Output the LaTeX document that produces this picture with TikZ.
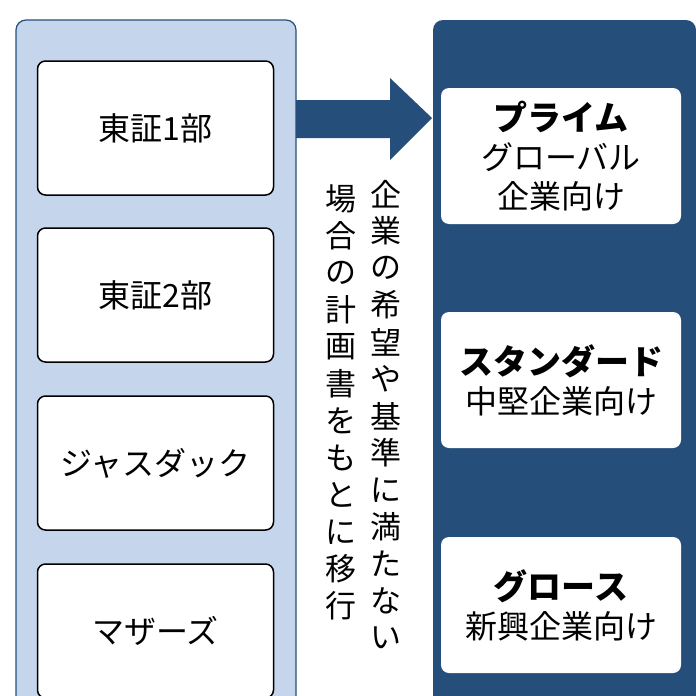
\documentclass[tikz,border=0pt]{standalone}
\usepackage{fontspec}
\setmainfont{Noto Sans CJK JP}
\usetikzlibrary{positioning}
\definecolor{paleblue}{HTML}{C5D5EC}
\definecolor{navy}{HTML}{254E7A}
\tikzset{
  oldbox/.style={draw=black,line width=1.5pt,fill=white,rounded corners=8pt,
    minimum width=236pt,minimum height=134pt,font=\fontsize{32}{34}\selectfont},
  newbox/.style={fill=white,rounded corners=8pt,minimum width=240pt,
    minimum height=136pt,align=center,font=\fontsize{32}{39}\selectfont},
  vchar/.style={font=\fontsize{31}{32}\selectfont,inner sep=0pt}
}
\begin{document}
\begin{tikzpicture}[x=1pt,y=-1pt]
  \useasboundingbox (0,0) rectangle (696,696);
  % panels
  \draw[navy,fill=paleblue,line width=1.2pt,rounded corners=10pt] (16,710) -- (16,20) -- (296,20) -- (296,710);
  \fill[navy,rounded corners=10pt] (433,710) -- (433,20) -- (696,20) -- (696,710);
  % arrow
  \fill[navy] (296,100) -- (390,100) -- (390,78) -- (432,118) -- (390,160) -- (390,138) -- (296,138) -- cycle;
  % old markets
  \node[oldbox] (tse1) at (155.5,128) {東証1部};
  \node[oldbox] (tse2) at (155.5,295) {東証2部};
  \node[oldbox] (jasdaq) at (155.5,463) {ジャスダック};
  \node[oldbox] (mothers) at (155.5,631) {マザーズ};
  % new markets
  \node[newbox] (prime) at (561,156) {{\bfseries\fontsize{34}{39}\selectfont プライム}\\グローバル\\企業向け};
  \node[newbox] (standard) at (561,380) {{\bfseries\fontsize{34}{39}\selectfont スタンダード}\\中堅企業向け};
  \node[newbox] (growth) at (561,605) {{\bfseries\fontsize{34}{39}\selectfont グロース}\\新興企業向け};
  % vertical note
  \foreach \c [count=\i] in {企,業,の,希,望,や,基,準,に,満,た,な,い}
    \node[vchar] (r\i) at (386,157+37*\i) {\c};
  \foreach \c [count=\i] in {場,合,の,計,画,書,を,も,と,に,移,行}
    \node[vchar] (l\i) at (341,162+37*\i) {\c};
\end{tikzpicture}
\end{document}
